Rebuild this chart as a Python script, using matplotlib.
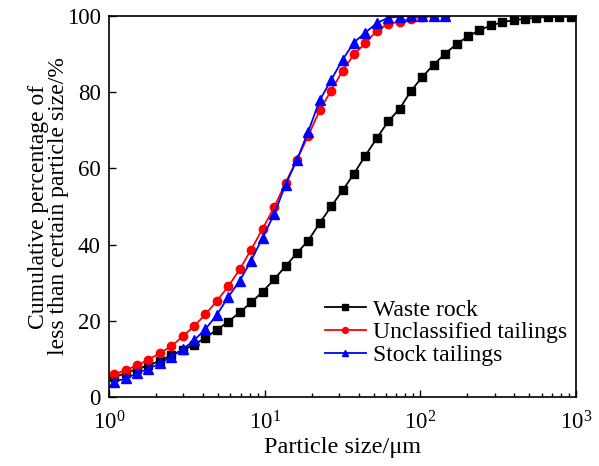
import matplotlib
matplotlib.use("Agg")
import matplotlib.pyplot as plt
from matplotlib.ticker import LogLocator, NullFormatter

plt.rcParams['font.family'] = ['Liberation Serif', 'DejaVu Serif']
plt.rcParams['mathtext.fontset'] = 'stix'

# particle size classes (um)
size = [1.08, 1.28, 1.51, 1.79, 2.12, 2.51, 2.97, 3.52, 4.16, 4.93,
        5.84, 6.91, 8.18, 9.68, 11.5, 13.6, 16.1, 19.0, 22.5, 26.7,
        31.6, 37.4, 44.2, 52.4, 62.0, 73.4, 86.9, 102.8, 121.7, 144.1,
        170.6, 201.9, 239.0, 282.9, 334.9, 396.4, 469.2, 555.4, 657.4, 778.2,
        921.1]

waste_rock = [5.2, 6.3, 7.3, 8.3, 9.5, 11.0, 12.3, 13.7, 15.6, 17.6,
              19.8, 22.2, 24.8, 27.6, 30.9, 34.3, 37.8, 41.0, 45.6, 50.0,
              54.2, 58.6, 63.3, 67.9, 72.3, 75.6, 80.3, 84.0, 87.2, 90.1,
              92.6, 94.6, 96.2, 97.5, 98.3, 98.9, 99.2, 99.5, 99.7, 99.7,
              99.8]

unclassified = [6.0, 7.0, 8.3, 9.8, 11.5, 13.3, 15.9, 18.6, 21.7, 25.2,
                29.1, 33.5, 38.7, 44.1, 49.8, 56.2, 62.3, 68.5, 75.2, 80.4,
                85.6, 89.9, 92.8, 96.1, 97.9, 98.5, 99.3, 99.7, 99.9, 100.0]

stock = [4.0, 4.9, 6.2, 7.4, 8.8, 10.6, 12.5, 14.9, 17.8, 21.6,
         26.3, 30.5, 35.8, 41.8, 48.0, 55.7, 62.2, 69.6, 77.8, 83.2,
         88.5, 93.0, 95.6, 98.1, 99.5, 99.8, 100.0, 100.0, 100.0, 100.0]

fig = plt.figure(figsize=(5.99, 4.66), dpi=100)
ax = fig.add_axes([0.182, 0.148, 0.780, 0.818])

ax.plot(size, waste_rock, 's-', c='black', lw=1.3, ms=5.5, label='Waste rock')
ax.plot(size[:len(unclassified)], unclassified, 'o-', c='red', lw=1.3, ms=6,
        label='Unclassified tailings')
ax.plot(size[:len(stock)], stock, '^-', c='blue', lw=1.3, ms=6.5,
        label='Stock tailings')

ax.set_xscale('log')
ax.set_xlim(1, 1000)
ax.set_ylim(0, 100)
ax.set_yticks([0, 20, 40, 60, 80, 100])
ax.xaxis.set_minor_locator(LogLocator(base=10, subs=range(2, 10)))
ax.xaxis.set_minor_formatter(NullFormatter())
ax.tick_params(which='major', direction='in', length=5, width=1,
               labelsize=16.5, top=False, right=False)
ax.tick_params(which='minor', direction='in', length=3, width=1,
               top=False, right=False)
ax.tick_params(axis='x', which='major', pad=10)
ax.tick_params(axis='y', which='major', pad=6)
for sp in ax.spines.values():
    sp.set_linewidth(1.2)

ax.set_xlabel('Particle size/μm', fontsize=17.5, labelpad=2)
ax.set_ylabel('Cumulative percentage of\nless than certain particle size/%',
              fontsize=17, labelpad=-1.5, linespacing=0.95)

ax.legend(loc='lower right', bbox_to_anchor=(1.005, 0.05), frameon=False,
          fontsize=17, handlelength=1.7, handletextpad=0.3,
          labelspacing=0.05, markerscale=0.7, borderpad=0.0)

fig.savefig('out.png', dpi=100)
